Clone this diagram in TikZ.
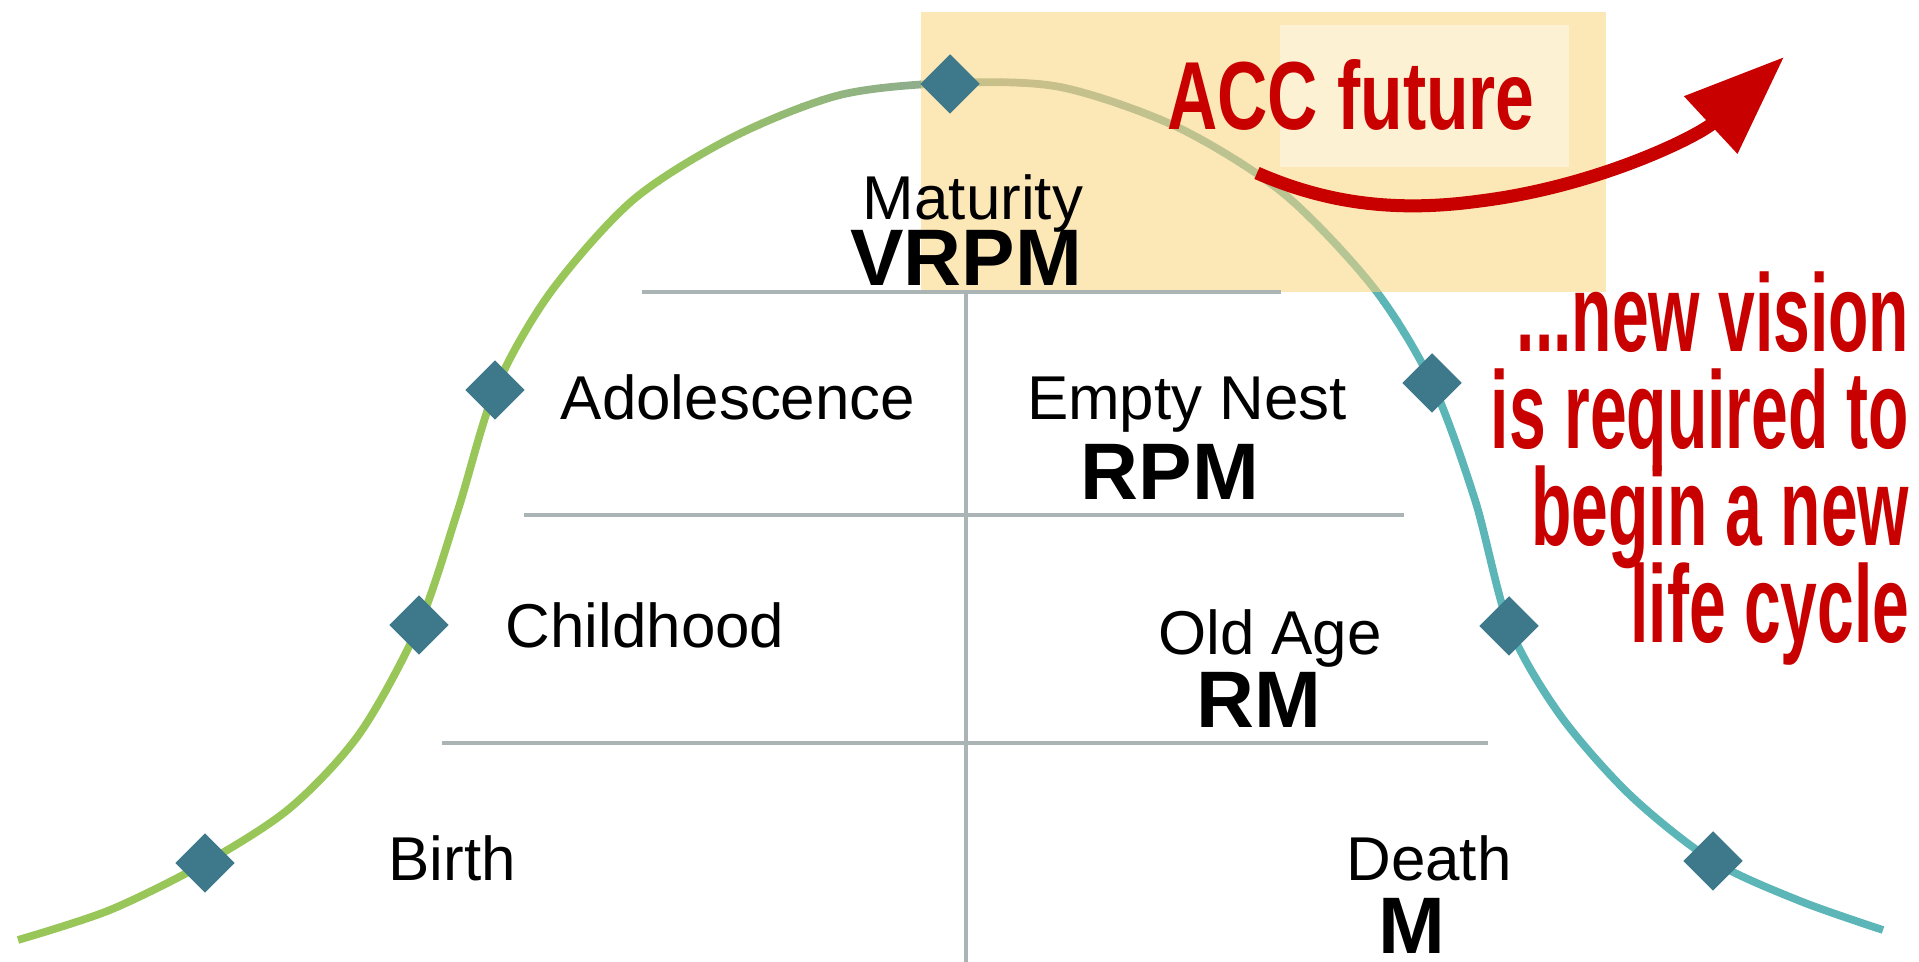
\documentclass[tikz,border=0pt]{standalone}
\usepackage{fontspec}
\setmainfont{Liberation Sans}
\newfontfamily\accfont[FakeStretch=0.72]{Liberation Sans}
\newfontfamily\visionfont[FakeStretch=0.6]{Liberation Sans}
\usetikzlibrary{arrows.meta}

\definecolor{curvegreen}{RGB}{152,198,88}
\definecolor{curvegray}{RGB}{140,166,160}
\definecolor{curveteal}{RGB}{92,181,182}
\definecolor{markerblue}{RGB}{62,121,139}
\definecolor{gridgray}{RGB}{170,180,180}
\definecolor{boxyellow}{RGB}{250,213,122}
\definecolor{accred}{RGB}{200,0,0}

\newcommand{\lifecurve}{plot[smooth] coordinates {(18,940) (110,910) (205,863) (290,808) (360,733) (419,625) (458,510) (495,390) (550,293) (633,200) (733,137) (840,95) (950,83) (1060,87) (1177,127) (1283,193) (1373,287) (1432,383) (1475,500) (1509,626) (1560,715) (1630,795) (1713,861) (1800,901) (1883,930)}}
\newcommand{\visionstyle}{\visionfont\bfseries\fontsize{31.3}{27.6}\selectfont\lineskiplimit=-20pt\relax}

\tikzset{
    lifeline/.style={line width=2.2pt},
    marker/.style={rectangle, rotate=45, fill=markerblue, minimum size=0.42cm, inner sep=0pt},
    gridline/.style={draw=gridgray, line width=1pt},
    stagetext/.style={font=\fontsize{17.6}{20}\selectfont, anchor=base},
    codetext/.style={font=\fontsize{22.8}{26}\selectfont\bfseries, anchor=base},
    accarrow/.style={draw=accred, line width=3.7pt, -{Triangle[length=1cm, width=0.75cm]}}
}

\begin{document}
\begin{tikzpicture}[x=0.01cm, y=-0.01cm]
            \useasboundingbox (0,0) rectangle (1919,962);

            % 生命周期曲线 (左绿右青)
            \begin{scope}
                \clip (0,0) rectangle (641,962);
                \draw[lifeline, curvegreen] \lifecurve;
            \end{scope}
            \foreach \i in {0,...,37} {
                \pgfmathtruncatemacro\xa{640+20*\i}
                \ifnum\i<19
                    \pgfmathtruncatemacro\mixp{round(100*\i/18)}
                    \colorlet{stripcolor}{curvegray!\mixp!curvegreen}
                \else
                    \pgfmathtruncatemacro\mixp{round(100*(\i-19)/18)}
                    \colorlet{stripcolor}{curveteal!\mixp!curvegray}
                \fi
                \begin{scope}
                    \clip (\xa,0) rectangle ++(21,962);
                    \draw[lifeline, stripcolor] \lifecurve;
                \end{scope}
            }
            \begin{scope}
                \clip (1400,0) rectangle (1919,962);
                \draw[lifeline, curveteal] \lifecurve;
            \end{scope}

            % 黄色背景框
            \fill[boxyellow, fill opacity=0.55] (921,12) rectangle (1606,292);
            \fill[white, fill opacity=0.4] (1280,25) rectangle (1569,167);

            % 分隔线
            \draw[gridline] (642,292) -- (1281,292);
            \draw[gridline] (524,515) -- (1404,515);
            \draw[gridline] (442,743) -- (1488,743);
            \draw[gridline] (966,292) -- (966,962);

            % 阶段名称
            \node[stagetext] (maturity) at (973,220) {Maturity};
            \node[codetext] (vrpm) at (966,286) {VRPM};
            \node[stagetext] (adolescence) at (738,420) {Adolescence};
            \node[stagetext] (emptynest) at (1187,420) {Empty Nest};
            \node[codetext] (rpm) at (1170,500) {RPM};
            \node[stagetext] (childhood) at (645,648) {Childhood};
            \node[stagetext] (oldage) at (1270,655) {Old Age};
            \node[codetext] (rm) at (1259,728) {RM};
            \node[stagetext] (birthlabel) at (452,881) {Birth};
            \node[stagetext] (deathlabel) at (1429,880) {Death};
            \node[codetext] (m) at (1412,953) {M};

            % 曲线上的标记点
            \node[marker] (birth) at (205,863) {};
            \node[marker] (child) at (419,625) {};
            \node[marker] (teen) at (495,390) {};
            \node[marker] (mature) at (950,84) {};
            \node[marker] (nest) at (1432,383) {};
            \node[marker] (old) at (1509,626) {};
            \node[marker] (death) at (1713,861) {};

            % 红色文字和箭头
            \node[anchor=base, text=accred, font=\accfont\bfseries\fontsize{27.5}{30}\selectfont] (accfuture) at (1351,130) {ACC future};
            \node[anchor=base east, align=right, inner sep=0pt, text=accred, font=\visionstyle] (newvision) at (1910,643) {...new vision\\is required to\\begin a new\\life cycle};

            \coordinate (arrowtail) at (1257,173);
            \coordinate (arrowtip) at (1784,57);
            \draw[accarrow] (arrowtail) .. controls (1330,205) and (1400,212) .. (1480,201) .. controls (1600,186) and (1700,135) .. (arrowtip);

        \end{tikzpicture}
\end{document}
